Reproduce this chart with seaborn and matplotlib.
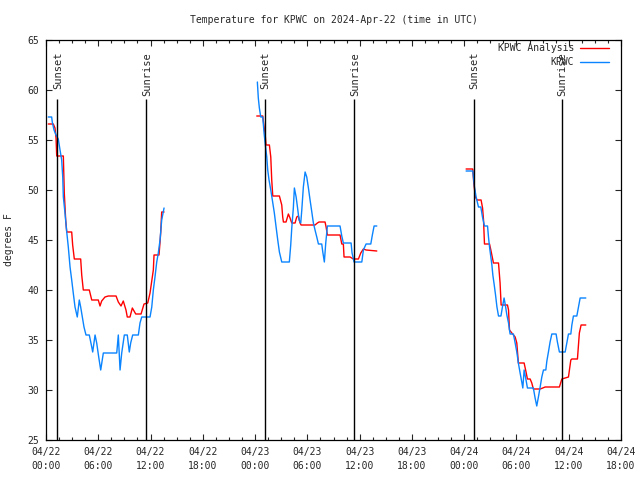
import numpy as np
import pandas as pd
import matplotlib
matplotlib.use("Agg")
import matplotlib.pyplot as plt
import seaborn as sns
from matplotlib.lines import Line2D
from matplotlib.ticker import MultipleLocator

# Время в часах от 04/22 00:00 UTC, температура в градусах F

# Наблюдения KPWC
obs1_h = [0.26, 0.65, 0.72, 0.92, 1.15, 1.41, 1.61, 1.80, 1.92, 1.99, 2.18, 2.38, 2.56, 2.76, 2.95, 3.13,
          3.33, 3.59, 3.82, 3.98, 4.17, 4.36, 4.59, 4.97, 5.25, 5.36, 5.63, 5.82, 6.05, 6.28, 6.58, 8.12,
          8.30, 8.50, 8.69, 8.99, 9.33, 9.56, 9.72, 9.95, 10.60, 10.79, 10.99, 11.94, 12.14, 12.32, 12.51,
          12.71, 12.89, 13.09, 13.28, 13.55]
obs1_t = [57.3, 57.3, 56.8, 56.0, 55.5, 55.1, 54.0, 53.0, 51.3, 49.3, 47.7, 45.8, 44.3, 42.3, 41.0, 39.7,
          38.3, 37.3, 39.0, 38.3, 37.3, 36.3, 35.5, 35.5, 34.3, 33.8, 35.5, 34.7, 33.3, 32.0, 33.7, 33.7,
          35.5, 32.0, 33.7, 35.5, 35.5, 33.8, 34.7, 35.5, 35.5, 36.7, 37.3, 37.3, 38.3, 40.0, 41.3,
          42.8, 43.7, 45.0, 47.0, 48.2]

obs2_h = [24.26, 24.37, 24.49, 24.65, 24.88, 25.03, 25.14, 25.34, 25.45, 25.60, 25.80, 25.98, 26.21, 26.41,
          26.60, 26.79, 27.06, 27.93, 28.09, 28.21, 28.39, 28.51, 28.71, 28.86, 29.05, 29.24, 29.36, 29.54,
          29.74, 29.93, 30.12, 30.31, 30.51, 30.69, 30.88, 31.08, 31.27, 31.65, 31.77, 31.95, 32.11, 32.30,
          33.75, 33.95, 34.13, 35.02, 35.13, 35.36, 36.25, 36.43, 36.74, 37.28, 37.46, 37.66, 37.97]
obs2_t = [60.8, 59.2, 58.2, 57.3, 57.3, 55.7, 54.8, 53.3, 52.0, 51.0, 50.0, 49.0, 47.7, 46.3,
          45.0, 43.8, 42.8, 42.8, 44.5, 46.2, 48.2, 50.2, 49.3, 48.3, 47.0, 46.7, 48.0, 50.3,
          51.8, 51.3, 50.2, 49.0, 47.8, 46.7, 46.0, 45.3, 44.6, 44.6, 43.8, 42.8, 44.7, 46.4,
          46.4, 45.4, 44.7, 44.7, 43.7, 42.8, 42.8, 44.0, 44.6, 44.6, 45.5, 46.4, 46.4]

obs3_h = [48.22, 48.99, 49.06, 49.18, 49.37, 49.64, 49.91, 50.10, 50.33, 50.68, 50.79, 50.91, 51.06, 51.18,
          51.29, 51.45, 51.60, 51.76, 51.94, 52.22, 52.39, 52.58, 52.74, 52.90, 53.09, 53.27, 53.65, 53.85,
          54.04, 54.22, 54.42, 54.61, 54.73, 54.88, 55.10, 55.26, 55.94, 56.14, 56.33, 56.52, 56.72, 56.91,
          57.10, 57.37, 57.49, 57.67, 57.86, 58.06, 58.55, 58.70, 58.93, 59.59, 59.78, 59.97, 60.24, 60.36,
          60.54, 60.93, 61.12, 61.31, 61.96]
obs3_t = [51.9, 51.9, 51.3, 50.3, 49.3, 48.3, 48.3, 47.3, 46.4, 46.4, 45.3, 44.3, 43.3, 42.5,
          41.5, 40.5, 39.5, 38.3, 37.4, 37.4, 38.3, 39.2, 38.4, 37.5, 36.7, 35.6, 35.6, 34.7,
          33.8, 32.7, 31.7, 30.8, 30.2, 32.0, 31.0, 30.2, 30.2, 29.2, 28.4, 29.3, 30.3, 31.3,
          32.0, 32.0, 32.9, 33.8, 34.8, 35.6, 35.6, 34.8, 33.8, 33.8, 34.7, 35.6, 35.6, 36.5,
          37.4, 37.4, 38.3, 39.2, 39.2]

# Анализ KPWC
ana1_h = [0.26, 0.84, 1.03, 1.15, 1.23, 1.99, 2.10, 2.26, 2.38, 2.95, 3.06, 3.25, 3.98, 4.10, 4.28, 4.97,
          5.25, 6.00, 6.20, 6.39, 6.77, 7.15, 8.04, 8.30, 8.61, 8.87, 9.18, 9.33, 9.64, 9.91, 10.30, 10.91,
          11.25, 11.68, 11.94, 12.32, 12.40, 12.97, 13.09, 13.17, 13.28, 13.55]
ana1_t = [56.6, 56.6, 56.2, 55.2, 53.4, 53.4, 49.7, 47.0, 45.8, 45.8, 44.5, 43.1, 43.1, 41.5, 40.0, 40.0,
          39.0, 39.0, 38.4, 38.9, 39.3, 39.4, 39.4, 38.8, 38.4, 38.9, 38.0, 37.3, 37.3, 38.2, 37.6, 37.6,
          38.6, 38.7, 39.7, 42.0, 43.5, 43.5, 44.8, 45.8, 47.8, 47.8]

ana2_h = [24.19, 24.88, 25.03, 25.14, 25.26, 25.64, 25.80, 25.91, 26.03, 26.79, 27.06, 27.17, 27.25, 27.55,
          27.82, 28.01, 28.21, 28.59, 28.78, 28.97, 29.16, 29.28, 30.88, 31.15, 31.34, 32.03, 32.15, 32.30,
          33.75, 33.95, 34.13, 34.21, 34.90, 35.28, 35.86, 36.13, 36.43, 36.74, 37.97]
ana2_t = [57.4, 57.4, 56.3, 55.7, 54.5, 54.5, 53.3, 51.0, 49.4, 49.4, 48.5, 47.3, 46.8, 46.8,
          47.6, 47.2, 46.7, 46.7, 47.3, 47.4, 46.7, 46.5, 46.5, 46.7, 46.8, 46.8, 46.3, 45.5,
          45.5, 44.6, 44.6, 43.3, 43.3, 43.1, 43.1, 43.7, 44.1, 44.0, 43.9]

ana3_h = [48.22, 48.98, 49.10, 49.29, 49.48, 49.94, 50.11, 50.22, 50.33, 50.91, 51.06, 51.36, 51.94, 52.12,
          52.24, 52.97, 53.09, 53.20, 53.47, 53.85, 54.04, 54.22, 54.88, 55.10, 55.26, 55.57, 55.76, 55.94,
          56.72, 57.02, 57.29, 58.93, 59.21, 59.97, 60.24, 60.36, 61.00, 61.22, 61.42, 61.96]
ana3_t = [52.1, 52.1, 50.7, 49.3, 49.0, 49.0, 48.2, 47.0, 44.6, 44.6, 44.0, 42.7, 42.7, 40.7,
          38.5, 38.5, 38.0, 36.0, 35.7, 35.3, 34.7, 32.7, 32.7, 31.8, 31.1, 31.1, 30.7, 30.1,
          30.1, 30.2, 30.3, 30.3, 31.1, 31.3, 33.0, 33.1, 33.1, 35.7, 36.5, 36.5]

# Закат / восход (часы UTC от 04/22 00:00)
sunset_h = [1.26, 25.1, 49.1]
sunrise_h = [11.48, 35.4, 59.2]
sun_line_top = 59.1

tick_hours = [0, 6, 12, 18, 24, 30, 36, 42, 48, 54, 60, 66]
tick_labels = ["04/22\n00:00", "04/22\n06:00", "04/22\n12:00", "04/22\n18:00",
               "04/23\n00:00", "04/23\n06:00", "04/23\n12:00", "04/23\n18:00",
               "04/24\n00:00", "04/24\n06:00", "04/24\n12:00", "04/24\n18:00"]

RED = "#ff0000"
BLUE = "#0a84ff"


def build_frame():
    parts = []
    for seg, (h, t) in enumerate([(ana1_h, ana1_t), (ana2_h, ana2_t), (ana3_h, ana3_t)]):
        parts.append(pd.DataFrame({"hour": h, "temp": t, "series": "KPWC Analysis", "segment": seg}))
    for seg, (h, t) in enumerate([(obs1_h, obs1_t), (obs2_h, obs2_t), (obs3_h, obs3_t)]):
        parts.append(pd.DataFrame({"hour": h, "temp": t, "series": "KPWC", "segment": seg + 10}))
    return pd.concat(parts, ignore_index=True)


sns.set_style("ticks")
plt.rcParams["font.family"] = ["DejaVu Sans Mono"]
plt.rcParams["font.size"] = 7

fig = plt.figure(figsize=(6.4, 4.8), dpi=100)
ax = fig.add_axes([46 / 640, 40 / 480, 575 / 640, 400 / 480])

df = build_frame()
sns.lineplot(data=df, x="hour", y="temp", hue="series", units="segment", estimator=None,
             sort=False, palette={"KPWC Analysis": RED, "KPWC": BLUE}, linewidth=1.0,
             legend=False, ax=ax)

# Вертикальные линии заката и восхода с подписями над ними
for h in sunset_h:
    ax.vlines(h, 25, sun_line_top, color="black", linewidth=1.0)
    ax.text(h + 0.1, 63.8, "Sunset", rotation=90, ha="center", va="top", fontsize=7.5)
for h in sunrise_h:
    ax.vlines(h, 25, sun_line_top, color="black", linewidth=1.0)
    ax.text(h + 0.1, 63.8, "Sunrise", rotation=90, ha="center", va="top", fontsize=7.5)

ax.set_xlim(0, 66)
ax.set_ylim(25, 65)
ax.set_xticks(tick_hours)
ax.set_xticklabels(tick_labels, linespacing=1.45)
ax.xaxis.set_minor_locator(MultipleLocator(1.5))
ax.set_yticks(np.arange(25, 66, 5))
ax.tick_params(which="both", direction="in", top=True, right=True, labelsize=7, pad=5)
ax.tick_params(which="major", length=4.5, width=0.8)
ax.tick_params(which="minor", length=2.5, width=0.8)
for s in ax.spines.values():
    s.set_color("black")
    s.set_linewidth(0.9)

ax.set_xlabel("")
ax.set_ylabel("degrees F", fontsize=7)
ax.yaxis.set_label_coords(-0.055, 0.5)
ax.set_title("Temperature for KPWC on 2024-Apr-22 (time in UTC)", fontsize=7, pad=12)

handles = [Line2D([], [], color=RED, linewidth=1.0), Line2D([], [], color=BLUE, linewidth=1.0)]
ax.legend(handles, ["KPWC Analysis", "KPWC"], loc="upper right", bbox_to_anchor=(1 - 9 / 575, 1.0),
          frameon=False, markerfirst=False, handlelength=3.0, handletextpad=0.6, labelspacing=0.45,
          borderaxespad=0.1, borderpad=0.2, fontsize=7)

fig.savefig("out.png", dpi=100)
